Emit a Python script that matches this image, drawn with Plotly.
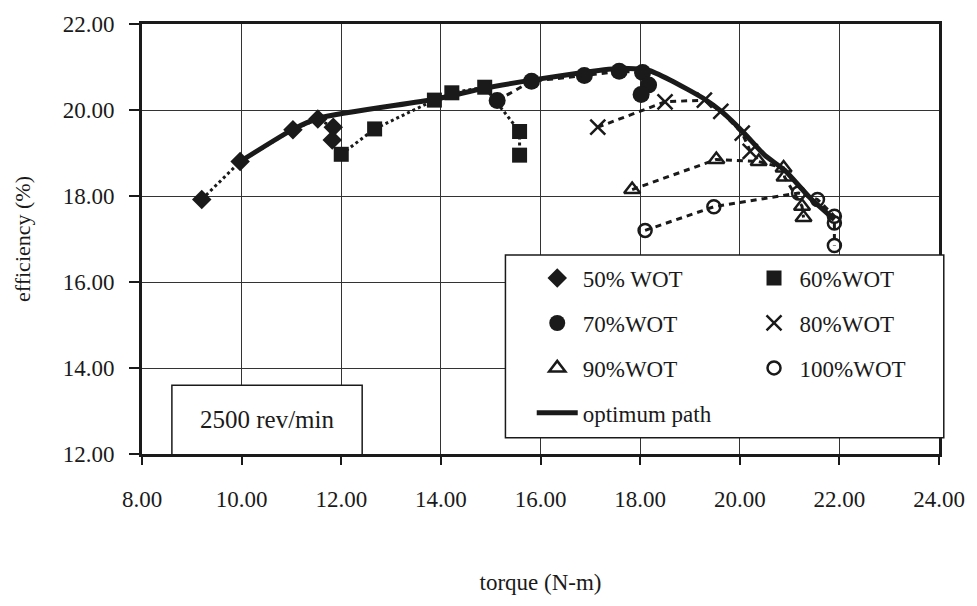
import plotly.graph_objects as go

# ---- data (torque N-m, efficiency %) ----
wot50_x = [9.20, 9.97, 11.03, 11.53, 11.84, 11.82]
wot50_y = [17.92, 18.80, 19.54, 19.79, 19.60, 19.30]

wot60_x = [12.00, 12.67, 13.87, 14.22, 14.88, 15.58, 15.58]
wot60_y = [18.97, 19.56, 20.23, 20.40, 20.53, 19.50, 18.95]

wot70_x = [15.13, 15.82, 16.88, 17.58, 18.05, 18.17, 18.02]
wot70_y = [20.22, 20.67, 20.80, 20.90, 20.87, 20.58, 20.36]

wot80_x = [17.15, 18.50, 19.29, 19.62, 20.05, 20.21]
wot80_y = [19.60, 20.19, 20.23, 19.97, 19.46, 19.04]

wot90_x = [17.84, 19.53, 20.38, 20.88, 20.90, 21.25, 21.28]
wot90_y = [18.15, 18.85, 18.80, 18.65, 18.44, 17.76, 17.50]

wot100_x = [18.10, 19.48, 21.18, 21.56, 21.90, 21.90, 21.90]
wot100_y = [17.20, 17.75, 18.07, 17.92, 17.53, 17.37, 16.85]

opt_x = [9.97, 11.03, 11.58, 13.87, 14.85, 15.85, 16.85, 17.60, 18.15, 18.60,
         19.30, 19.65, 20.10, 20.50, 20.90, 21.40, 21.90]
opt_y = [18.80, 19.55, 19.82, 20.25, 20.50, 20.70, 20.87, 20.97, 20.93, 20.70,
         20.25, 19.95, 19.45, 18.95, 18.60, 17.97, 17.45]

x_ticks = [8, 10, 12, 14, 16, 18, 20, 22, 24]
y_ticks = [12, 14, 16, 18, 20, 22]

FONT = "Liberation Serif"
BLACK = "#1a1a1a"

fig = go.Figure()

series = [
    ("50% WOT", wot50_x, wot50_y, dict(symbol="diamond", size=15, color=BLACK), "dot", "legend", 1),
    ("60%WOT", wot60_x, wot60_y, dict(symbol="square", size=15, color=BLACK), "dot", "legend2", 1),
    ("70%WOT", wot70_x, wot70_y, dict(symbol="circle", size=17, color=BLACK), "6px,5px", "legend", 2),
    ("80%WOT", wot80_x, wot80_y, dict(symbol="x-thin-open", size=15, color=BLACK,
                                       line=dict(width=2.5, color=BLACK)), "6px,5px", "legend2", 2),
    ("90%WOT", wot90_x, wot90_y, dict(symbol="triangle-up-open", size=14, color=BLACK,
                                       line=dict(width=2.5, color=BLACK)), "6px,5px", "legend", 3),
    ("100%WOT", wot100_x, wot100_y, dict(symbol="circle-open", size=13, color=BLACK,
                                          line=dict(width=2.5, color=BLACK)), "6px,5px", "legend2", 3),
]

# connecting dotted / dashed lines (no legend entries)
for name, xs, ys, mk, dash, lg, rank in series:
    fig.add_trace(go.Scatter(
        x=xs, y=ys, mode="lines", showlegend=False, hoverinfo="skip",
        line=dict(color=BLACK, width=3, dash=dash)))

# optimum path
fig.add_trace(go.Scatter(
    x=opt_x, y=opt_y, mode="lines", name="optimum path",
    line=dict(color=BLACK, width=5, shape="spline", smoothing=0.6),
    legend="legend", legendgroup="opt", legendrank=4))

# markers with legend entries
for name, xs, ys, mk, dash, lg, rank in series:
    fig.add_trace(go.Scatter(
        x=xs, y=ys, mode="markers", name=name, marker=mk,
        legend=lg, legendgroup=name, legendrank=rank))

# legend box (white, covers grid)
fig.add_shape(type="rect", xref="paper", yref="y",
              x0=0.456, x1=1.006, y0=12.38, y1=16.63,
              fillcolor="white", line=dict(color=BLACK, width=1.5), layer="above")
# speed label box
fig.add_shape(type="rect", xref="x", yref="y",
              x0=8.6, x1=12.42, y0=11.97, y1=13.6,
              fillcolor="white", line=dict(color=BLACK, width=1.5), layer="above")
fig.add_annotation(x=10.51, y=12.8, xref="x", yref="y", text="2500 rev/min",
                   showarrow=False, font=dict(family=FONT, size=25, color=BLACK))

legend_common = dict(
    font=dict(family=FONT, size=23, color=BLACK),
    bgcolor="rgba(0,0,0,0)", borderwidth=0,
    traceorder="grouped", tracegroupgap=12, itemwidth=41,
    xanchor="left", yanchor="top", yref="paper",
)
fig.update_layout(
    width=977, height=606,
    margin=dict(l=142, r=30, t=16, b=152),
    paper_bgcolor="white", plot_bgcolor="white",
    font=dict(family=FONT, size=22, color=BLACK),
    legend=dict(x=0.489, y=0.459, **legend_common),
    legend2=dict(x=0.761, y=0.459, **legend_common),
    xaxis=dict(
        range=[8, 24], tickvals=x_ticks, tickformat=".2f",
        showgrid=True, gridcolor="#333333", gridwidth=1,
        showline=True, linecolor=BLACK, linewidth=3, mirror=True,
        ticks="outside", ticklen=8, tickwidth=1.5, tickcolor=BLACK,
        ticklabelstandoff=14, zeroline=False,
        tickfont=dict(family=FONT, size=23, color=BLACK),
        title=dict(text="torque (N-m)", font=dict(family=FONT, size=23, color=BLACK), standoff=64),
    ),
    yaxis=dict(
        range=[12, 22], tickvals=y_ticks, tickformat=".2f",
        showgrid=True, gridcolor="#333333", gridwidth=1,
        showline=True, linecolor=BLACK, linewidth=3, mirror=True,
        ticks="outside", ticklen=10, tickwidth=1.5, tickcolor=BLACK,
        ticklabelstandoff=10, zeroline=False,
        tickfont=dict(family=FONT, size=23, color=BLACK),
        title=dict(text="efficiency (%)", font=dict(family=FONT, size=22, color=BLACK), standoff=26),
    ),
)

fig.write_html("out.html")
